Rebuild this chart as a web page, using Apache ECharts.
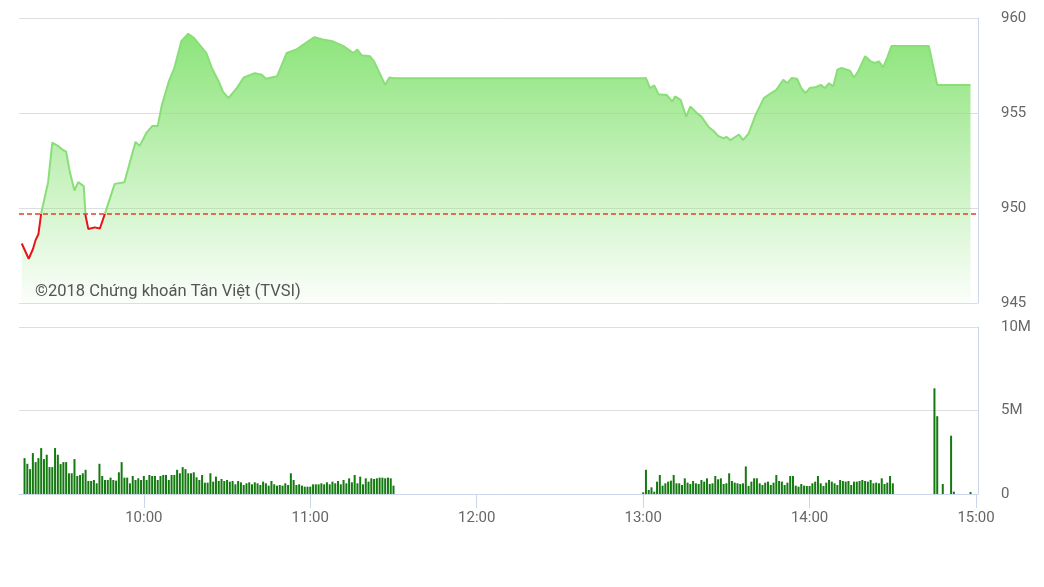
<!DOCTYPE html>
<html><head><meta charset="utf-8">
<script src="https://cdn.jsdelivr.net/npm/echarts@6/dist/echarts.min.js"></script>
<style>html,body{margin:0;padding:0;background:#fff}#c{width:1044px;height:587px}</style>
</head><body><div id="c"></div>
<script>
// ---- data ----
const priceTimes = ["09:16","09:18:30","09:20","09:21","09:22","09:23","09:25:30","09:27","09:29","09:31","09:32","09:33:20","09:35","09:36:20","09:38:20","09:39","09:40","09:42:20","09:44:10","09:46","09:49:30","09:53","09:57","09:58:30","10:01","10:03","10:05","10:06:30","10:09","10:11","10:13:30","10:16","10:18","10:21","10:22:30","10:24:30","10:27","10:28:30","10:30:30","10:33:30","10:36","10:40","10:42:30","10:44","10:48","10:51:30","10:55","10:57:30","11:01:30","11:04:30","11:08","11:12","11:15:30","11:17","11:18:30","11:21:30","11:23","11:25","11:27","11:28:30","11:30",
"13:00","13:01","13:02:30","13:04","13:05:30","13:08:30","13:10:30","13:11:30","13:13:30","13:15:30","13:17","13:19:30","13:21","13:23:30","13:25:30","13:27","13:29","13:30","13:31:30","13:34:30","13:36","13:38","13:40:30","13:43:30","13:46","13:48","13:50:30","13:52","13:53:30","13:55:30","13:57","13:58:30","14:00","14:02","14:04","14:05:30","14:07","14:08:30","14:10","14:11:30","14:14:30","14:16","14:17:30","14:20","14:22","14:23:30","14:25","14:26:30","14:28","14:29:30","14:43","14:46","14:58"];
const priceValues = [948.13,947.33,947.83,948.32,948.62,949.72,951.36,953.44,953.27,953.04,952.97,951.89,950.92,951.36,951.15,949.59,948.89,948.98,948.92,949.72,951.27,951.36,953.48,953.27,953.97,954.31,954.31,955.42,956.66,957.37,958.78,959.17,958.96,958.43,958.16,957.37,956.66,956.13,955.78,956.31,956.87,957.10,957.01,956.80,956.93,958.16,958.34,958.60,958.99,958.87,958.78,958.52,958.16,958.34,958.04,957.99,957.72,957.10,956.48,956.87,956.83,
956.83,956.84,956.31,956.45,955.99,955.95,955.60,955.87,955.69,954.81,955.34,954.98,954.81,954.28,954.04,953.80,953.66,953.75,953.57,953.87,953.57,953.92,954.89,955.78,956.04,956.22,956.75,956.57,956.84,956.80,956.31,956.04,956.31,956.35,956.48,956.31,956.57,956.40,957.28,957.37,957.23,956.87,957.19,957.99,957.72,957.63,957.72,957.40,957.93,958.52,958.52,956.48,956.48];
const refPrice = 949.7;

// volume in millions, one bar per minute from the start time
const morningVolStart = "09:17";
const morningVol = [2.15,1.81,1.49,2.45,1.91,2.15,2.75,2.09,2.35,1.61,1.61,2.75,2.35,1.79,1.91,1.91,1.24,1.24,2.09,1.08,1.14,1.24,1.45,0.78,0.78,0.84,0.64,1.81,1.08,0.84,0.84,0.98,0.84,0.80,1.30,1.91,0.98,0.98,0.64,1.08,0.84,0.94,0.84,1.08,0.84,1.14,1.08,1.08,0.84,1.08,1.14,1.14,0.84,1.14,1.14,1.45,1.24,1.61,1.49,1.24,1.24,1.30,1.00,0.84,1.14,0.68,0.68,1.24,
0.74,1.04,0.78,0.90,0.78,0.84,0.74,0.78,0.58,0.78,0.70,0.54,0.64,0.70,0.58,0.70,0.64,0.54,0.74,0.64,0.50,0.78,0.58,0.50,0.54,0.50,0.64,0.54,1.24,0.84,0.54,0.58,0.50,0.44,0.44,0.44,0.58,0.58,0.58,0.64,0.58,0.70,0.58,0.74,0.64,0.78,0.58,0.84,0.64,0.94,0.70,1.14,0.64,1.04,0.58,0.94,0.74,0.94,0.90,0.94,0.98,0.98,0.94,0.98,0.94,0.50];
const afternoonVolStart = "13:00";
const afternoonVol = [0.10,1.45,0.24,0.40,0.14,0.74,1.14,0.50,0.64,0.74,0.80,1.14,0.64,0.64,0.54,0.94,0.68,0.60,0.78,0.64,0.60,0.84,0.74,0.94,0.60,0.64,1.08,0.88,0.94,0.60,0.64,1.24,0.78,0.68,0.64,0.60,0.64,1.65,0.48,0.74,0.94,0.94,0.64,0.54,0.68,0.74,0.54,0.68,1.14,0.78,0.74,0.54,0.68,1.08,1.08,0.50,0.44,0.60,0.50,0.48,0.48,0.64,0.74,1.08,0.64,0.48,0.68,0.84,0.74,0.64,0.54,0.84,0.78,0.74,0.78,0.54,0.74,0.74,0.78,0.84,0.78,0.74,0.84,0.64,0.68,0.64,0.94,0.60,0.68,1.08,0.64];
const lateVolTimes = ["14:45","14:46","14:48","14:51","14:52","14:58"];
const lateVol = [6.33,4.66,0.60,3.49,0.14,0.12];

const priceTicks = [945, 960];      // axis range
const volTicks = [0, 10];           // millions
const xTickLabels = ["10:00","11:00","12:00","13:00","14:00","15:00"];
const axisStart = "09:15";
const watermark = "©2018 Chứng khoán Tân Việt (TVSI)";

// ---- helpers ----
function toMin(s){const p=s.split(':').map(Number);return p[0]*60+p[1]+(p[2]||0)/60;}
function fmt(m){const h=Math.floor(m/60),mm=Math.round(m-h*60);return (h<10?'0':'')+h+':'+(mm<10?'0':'')+mm;}

const priceData = priceTimes.map((t,i)=>[toMin(t), priceValues[i]]);
const volData = [];
const ms = toMin(morningVolStart);
morningVol.forEach((v,i)=>volData.push([ms+i, v]));
const as = toMin(afternoonVolStart);
afternoonVol.forEach((v,i)=>volData.push([as+i, v]));
lateVolTimes.forEach((t,i)=>volData.push([toMin(t), lateVol[i]]));

const xMin = toMin(axisStart), xMax = 900.7;
const tickVals = xTickLabels.map(toMin);
const font = 'Roboto, "Noto Sans", sans-serif';
const axisCol = '#ccd6eb', gridCol = '#dedede', labelCol = '#666';

const chart = echarts.init(document.getElementById('c'), null, {renderer:'canvas'});
chart.setOption({
  animation:false,
  backgroundColor:'#fff',
  grid:[
    {left:19, right:66, top:18, height:285},
    {left:19, right:66, top:327, height:167}
  ],
  xAxis:[
    {type:'value', gridIndex:0, min:xMin, max:xMax, show:false, splitLine:{show:false}},
    {type:'value', gridIndex:1, min:xMin, max:xMax,
     axisLine:{show:true, lineStyle:{color:axisCol, width:1}},
     axisTick:{show:true, customValues:tickVals, length:14, lineStyle:{color:axisCol}},
     axisLabel:{show:true, customValues:tickVals, formatter:v=>fmt(v), color:labelCol, fontSize:15, fontFamily:font, margin:17},
     splitLine:{show:false}}
  ],
  yAxis:[
    {type:'value', gridIndex:0, position:'right', min:priceTicks[0], max:priceTicks[1], interval:5,
     axisLine:{show:true, lineStyle:{color:axisCol}}, axisTick:{show:false},
     axisLabel:{color:labelCol, fontSize:15, fontFamily:font, margin:23, padding:[5,0,0,0]},
     splitLine:{show:true, lineStyle:{color:gridCol}}},
    {type:'value', gridIndex:1, position:'right', min:volTicks[0], max:volTicks[1], interval:5,
     axisLine:{show:true, lineStyle:{color:axisCol}}, axisTick:{show:false},
     axisLabel:{color:labelCol, fontSize:15, fontFamily:font, margin:23, padding:[5,0,0,0], formatter:v=>v===0?'0':v+'M'},
     splitLine:{show:true, lineStyle:{color:gridCol}}}
  ],
  visualMap:{type:'piecewise', show:false, seriesIndex:0, dimension:1,
    pieces:[{min:900, max:refPrice, color:'#e8141b'},{min:refPrice, max:1000, color:'#8ade78'}]},
  series:[
    {type:'line', xAxisIndex:0, yAxisIndex:0, data:priceData, symbol:'none', smooth:false,
     lineStyle:{width:2},
     areaStyle:{origin:'start', opacity:1, color:new echarts.graphic.LinearGradient(0,0,0,1,[
        {offset:0, color:'rgba(140,228,122,1)'},
        {offset:1, color:'rgba(140,228,122,0.03)'}])},
     markLine:{silent:true, symbol:'none', label:{show:false},
       lineStyle:{color:'#e2402a', type:[5,3], width:1.5},
       data:[{yAxis:refPrice}]},
     z:3},
    {type:'bar', xAxisIndex:1, yAxisIndex:1, data:volData, barWidth:2,
     itemStyle:{color:'#147a10'}, z:3}
  ],
  graphic:[
    {type:'text', left:35, top:283, z:10,
     style:{text:watermark, fill:'#555', fontSize:16.5, fontFamily:font}}
  ]
});
</script>
</body></html>
